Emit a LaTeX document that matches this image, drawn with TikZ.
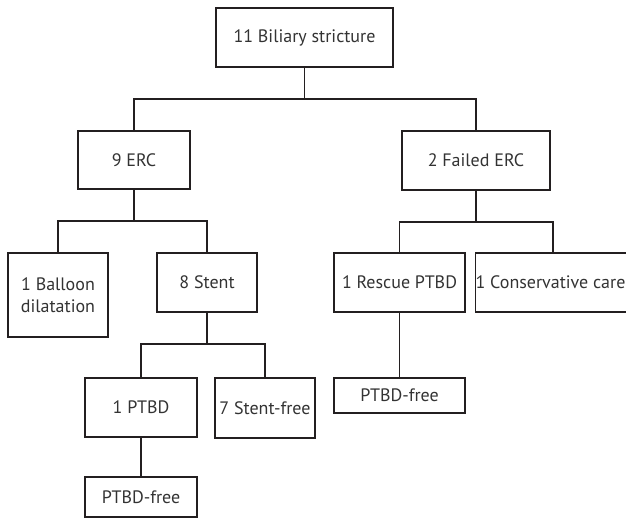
\documentclass[tikz,border=0pt]{standalone}
\usepackage{fontspec}
\setmainfont{PT Sans}
\definecolor{inkline}{HTML}{231F20}
\definecolor{inktext}{HTML}{333333}
\tikzset{
  box/.style={draw=inkline, line width=1.1pt, rectangle, inner sep=0pt,
    text=inktext, font=\fontsize{18}{22}\selectfont, align=center},
  link/.style={draw=inkline, line width=1.1pt}
}
\begin{document}
\begin{tikzpicture}[x=1pt, y=-1pt]
\useasboundingbox (0,0) rectangle (626,518);
% boxes, centred on measured positions
\node[box, minimum width=177pt, minimum height=59pt] (bil) at (304.5,37.5) {11 Biliary stricture};
\node[box, minimum width=112pt, minimum height=58pt] (erc) at (134,160) {9 ERC};
\node[box, minimum width=148pt, minimum height=59pt] (failed) at (476,160.5) {2 Failed ERC};
\node[box, minimum width=100pt, minimum height=84pt] (balloon) at (58,295) {1 Balloon\\dilatation};
\node[box, minimum width=100pt, minimum height=59pt] (stent) at (207,282.5) {8 Stent};
\node[box, minimum width=131pt, minimum height=59pt] (rescue) at (399.5,282.5) {1 Rescue PTBD};
\node[box, minimum width=150pt, minimum height=59pt] (conserv) at (553,282.5) {1 Conservative care\hspace*{5pt}};
\node[box, minimum width=112pt, minimum height=59pt] (ptbd) at (141,407.5) {1 PTBD};
\node[box, minimum width=100pt, minimum height=60pt] (sfree) at (265,408) {7 Stent-free};
\node[box, minimum width=112pt, minimum height=40pt] (pfreea) at (141,497) {PTBD-free};
\node[box, minimum width=131pt, minimum height=35pt] (pfreeb) at (399.5,395.5) {PTBD-free};
% junctions
\coordinate (j1) at (304.5,99);
\coordinate (j2) at (134,221);
\coordinate (j3) at (476,222);
\coordinate (j4) at (207,344);
% connectors
\draw[link] (bil.south) -- (j1);
\draw[link] (erc.north) |- (j1) -| (failed.north);
\draw[link] (erc.south) -- (j2);
\draw[link] (balloon.north) |- (j2) -| (stent.north);
\draw[link] (failed.south) -- (j3);
\draw[link] (rescue.north) |- (j3) -| (conserv.north);
\draw[link] (stent.south) -- (j4);
\draw[link] (ptbd.north) |- (j4) -| (sfree.north);
\draw[link] (ptbd.south) -- (pfreea.north);
\draw[link] (rescue.south) -- (pfreeb.north);
\end{tikzpicture}
\end{document}
